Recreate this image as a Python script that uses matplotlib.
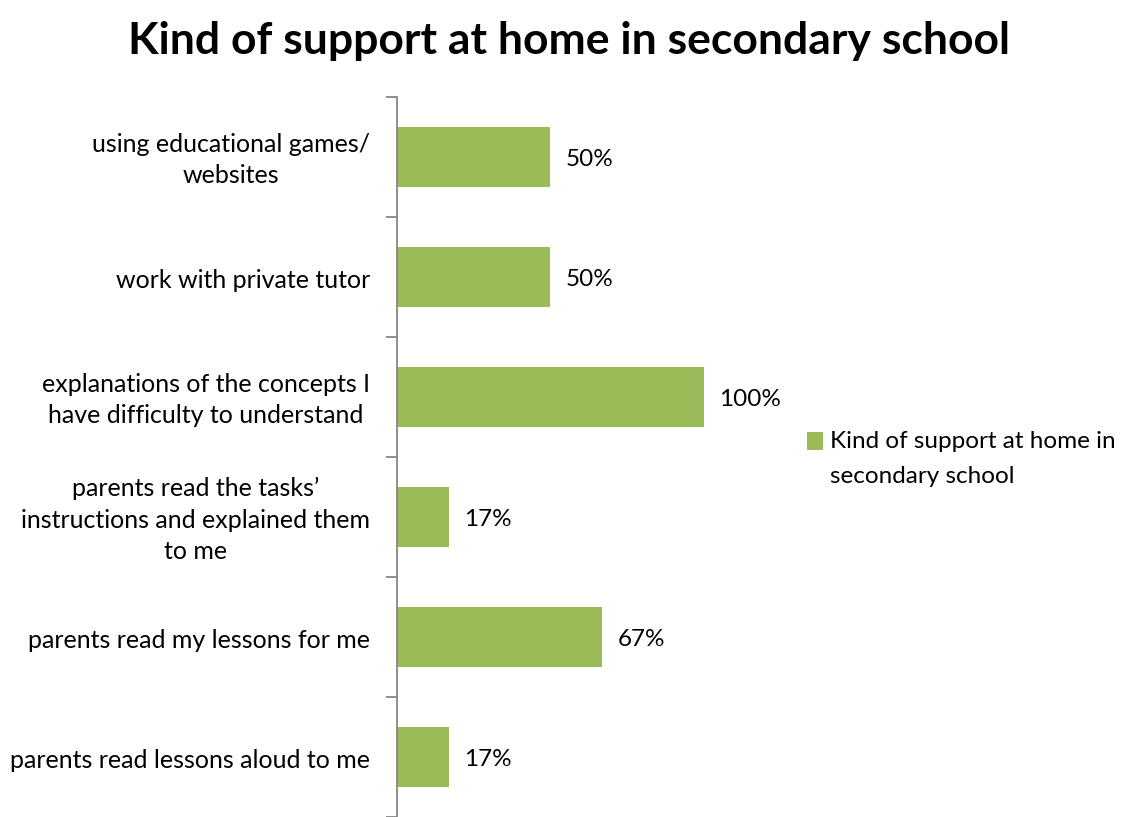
import matplotlib
matplotlib.use('Agg')
import matplotlib.pyplot as plt
from matplotlib.patches import Rectangle
from matplotlib.legend_handler import HandlerPatch

# Survey answers, listed bottom to top
categories = [
    'parents read lessons aloud to me',
    'parents read my lessons for me',
    'parents read the tasks\u2019\ninstructions and explained them\nto me',
    'explanations of the concepts I\nhave difficulty to understand',
    'work with private tutor',
    'using educational games/\nwebsites',
]
values = [17, 67, 17, 100, 50, 50]
series_name = 'Kind of support at home in\nsecondary school'
title = 'Kind of support at home in secondary school'

bar_col = '#9BBB59'
axis_col = '#868686'
plt.rcParams['font.family'] = ['Lato', 'DejaVu Sans']

fig = plt.figure(figsize=(11.22, 8.17), dpi=100)
ax = fig.add_axes([397 / 1122, 0.0, 368 / 1122, 720 / 817])

ypos = list(range(len(categories)))
bars = ax.barh(ypos, values, height=0.5, color=bar_col, label=series_name, zorder=2)
for y, v in zip(ypos, values):
    ax.text(v + 5, y - 0.025, '%d%%' % v, va='center', ha='left', fontsize=17.5, color='black')

ax.set_xlim(0, 120)
ax.set_ylim(-0.5, len(categories) - 0.5)

# category ticks sit between bars, labels just under the bar centres
ax.set_yticks([i - 0.5 for i in range(len(categories) + 1)], minor=False)
ax.set_yticklabels([])
ax.set_yticks([y - 0.025 for y in ypos], minor=True)
ax.set_yticklabels(categories, minor=True, fontsize=18, ha='right', va='center',
                   multialignment='center', linespacing=1.43)
ax.tick_params(axis='y', which='major', length=8, width=1.3, color=axis_col)
ax.tick_params(axis='y', which='minor', length=0, pad=19.5)
ax.set_xticks([])

for s in ['top', 'right', 'bottom']:
    ax.spines[s].set_visible(False)
ax.spines['left'].set_color(axis_col)
ax.spines['left'].set_linewidth(1.3)

fig.text(0.507, 1 - 41 / 817, title, ha='center', va='center', fontsize=32, fontweight='bold')


# legend square lines up with the first line of the label
def top_square(legend, orig_handle, xdescent, ydescent, width, height, fontsize):
    return Rectangle((-xdescent + 2, -ydescent + 12.6), width, height * 1.1)


leg = fig.legend(handles=[bars[0]], labels=[series_name], loc='upper left',
                 bbox_to_anchor=(782 / 1122, 1 - 409 / 817), frameon=False, fontsize=17.5,
                 handlelength=0.66, handleheight=0.66, handletextpad=0.42,
                 handler_map={Rectangle: HandlerPatch(patch_func=top_square)})
for t in leg.get_texts():
    t.set_linespacing(1.85)

fig.savefig('out.png', dpi=100)
